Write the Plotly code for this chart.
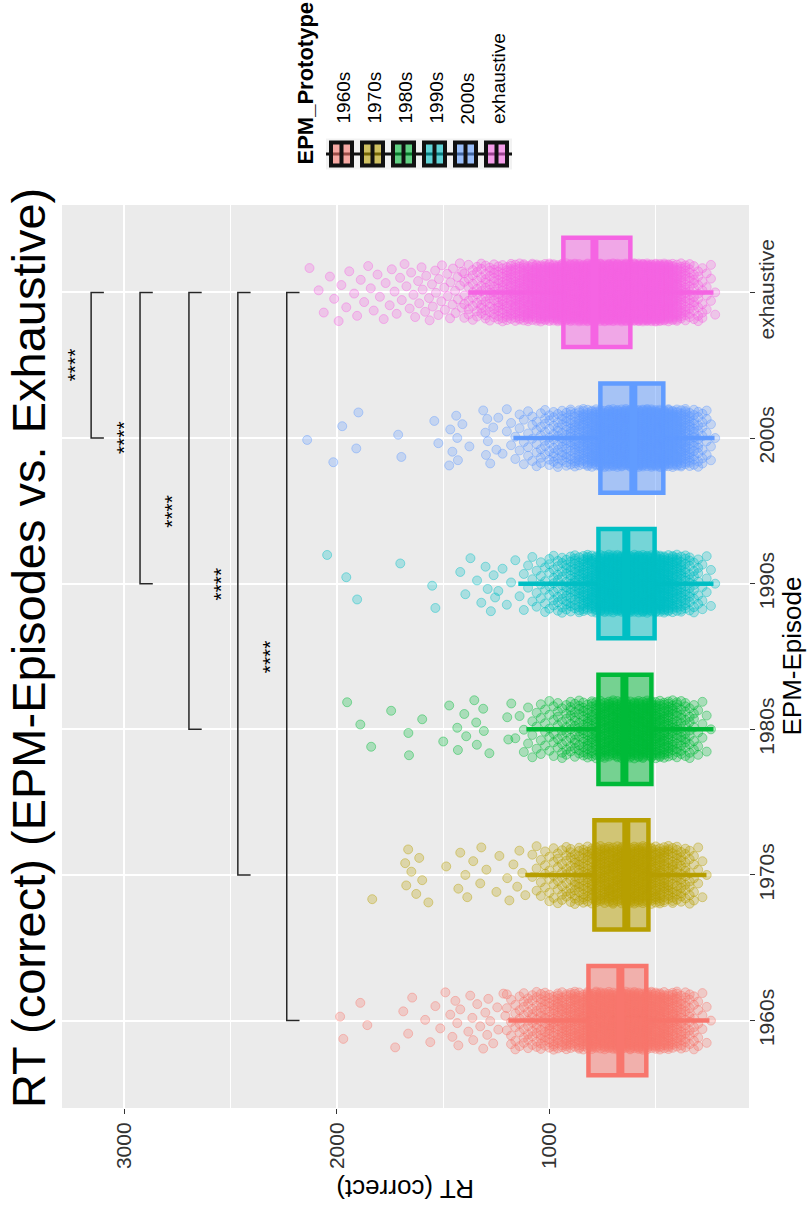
import plotly.graph_objects as go

# ---------------- data ----------------
categories = ["1960s", "1970s", "1980s", "1990s", "2000s", "exhaustive"]
colors = ["#F8766D", "#B79F00", "#00BA38", "#00BFC4", "#619CFF", "#F564E3"]

# box statistics (RT, ms)
box_lower = [247, 261, 228, 228, 223, 228]
box_q1 = [544, 534, 520, 505, 464, 619]
box_median = [666, 638, 647, 638, 605, 788]
box_q3 = [816, 788, 769, 769, 760, 934]
box_upper = [1193, 1113, 1108, 1146, 1169, 1381]

# jittered raw points: counts per 20 ms RT bin (estimated from the point clouds)
rt_bins = [220, 240, 260, 280, 300, 320, 340, 360, 380, 400,
           420, 440, 460, 480, 500, 520, 540, 560, 580, 600,
           620, 640, 660, 680, 700, 720, 740, 760, 780, 800,
           820, 840, 860, 880, 900, 920, 940, 960, 980, 1000,
           1020, 1040, 1060, 1080, 1100, 1120, 1140, 1160, 1180, 1200,
           1220, 1240, 1260, 1280, 1300, 1320, 1340, 1360, 1380, 1400]

counts_1960s = [0, 1, 2, 3, 5, 7, 9, 12, 15, 19,
                22, 25, 28, 30, 32, 34, 36, 37, 38, 38,
                38, 38, 37, 36, 35, 34, 32, 31, 30, 28,
                27, 25, 24, 22, 21, 20, 18, 17, 16, 14,
                13, 12, 10, 9, 8, 7, 6, 5, 4, 3,
                0, 0, 0, 0, 0, 0, 0, 0, 0, 0]
counts_1970s = [0, 0, 1, 2, 3, 5, 7, 9, 11, 13,
                15, 17, 19, 21, 23, 24, 25, 26, 26, 26,
                26, 25, 25, 24, 23, 22, 21, 20, 18, 17,
                15, 14, 12, 11, 9, 8, 7, 6, 5, 5,
                4, 3, 3, 2, 0, 0, 0, 0, 0, 0,
                0, 0, 0, 0, 0, 0, 0, 0, 0, 0]
counts_1980s = [0, 1, 2, 3, 4, 6, 8, 10, 12, 14,
                17, 20, 22, 24, 26, 28, 29, 30, 30, 30,
                30, 29, 28, 27, 26, 24, 23, 21, 19, 17,
                15, 13, 11, 10, 9, 8, 7, 6, 5, 5,
                4, 4, 3, 3, 2, 2, 1, 1, 0, 0,
                0, 0, 0, 0, 0, 0, 0, 0, 0, 0]
counts_1990s = [1, 2, 3, 4, 6, 8, 11, 14, 18, 22,
                26, 30, 33, 36, 38, 40, 41, 42, 42, 42,
                42, 41, 40, 39, 37, 35, 33, 31, 29, 27,
                24, 21, 18, 15, 13, 11, 9, 8, 7, 6,
                5, 4, 3, 3, 2, 2, 1, 1, 1, 1,
                1, 1, 0, 0, 0, 0, 0, 0, 0, 0]
counts_2000s = [1, 3, 5, 7, 10, 14, 18, 23, 28, 33,
                37, 41, 44, 47, 49, 50, 51, 51, 51, 50,
                49, 48, 46, 44, 42, 40, 37, 35, 32, 29,
                26, 23, 20, 17, 15, 13, 11, 10, 9, 8,
                7, 6, 5, 4, 4, 3, 3, 2, 2, 2,
                1, 1, 0, 0, 0, 0, 0, 0, 0, 0]
counts_exhaustive = [2, 3, 4, 6, 8, 10, 13, 17, 22, 28,
                     35, 43, 50, 57, 63, 67, 70, 72, 73, 74,
                     73, 72, 71, 70, 68, 66, 64, 62, 60, 58,
                     56, 54, 52, 50, 48, 46, 44, 42, 40, 38,
                     36, 34, 32, 30, 28, 26, 24, 22, 20, 18,
                     16, 14, 12, 11, 10, 9, 8, 7, 6, 5]

# sparse slow responses (individual points)
tail_1960s = [1984, 1969, 1889, 1856, 1725, 1687, 1664, 1645, 1584, 1560, 1536, 1513,
              1489, 1466, 1456, 1442, 1433, 1428, 1419, 1381, 1372, 1362, 1358, 1339,
              1325, 1311, 1301, 1292, 1287, 1278, 1264, 1245, 1240, 1216, 1207]
tail_1970s = [1833, 1678, 1673, 1664, 1649, 1626, 1612, 1598, 1569, 1485, 1428, 1419,
              1395, 1386, 1358, 1325, 1320, 1296, 1249, 1235, 1198, 1188, 1169, 1151,
              1141, 1127, 1113]
tail_1980s = [1951, 1889, 1838, 1744, 1663, 1660, 1598, 1499, 1471, 1433, 1430, 1400,
              1391, 1353, 1344, 1341, 1311, 1308, 1282, 1198, 1193, 1179]
tail_1990s = [2045, 1955, 1904, 1701, 1551, 1536, 1419, 1395, 1371, 1340, 1320, 1300,
              1290, 1275, 1262, 1255]
tail_2000s = [2139, 2016, 1974, 1908, 1898, 1711, 1696, 1541, 1522, 1471, 1466, 1456,
              1438, 1433, 1430, 1409, 1376, 1311, 1301, 1298, 1292, 1289, 1278, 1264, 1249]
tail_exhaustive = [2128, 2085, 2061, 2032, 2012, 1991, 1978, 1955, 1941, 1918, 1904, 1887,
                   1871, 1852, 1840, 1826, 1808, 1797, 1779, 1770, 1751, 1741, 1728, 1718,
                   1702, 1694, 1681, 1672, 1657, 1650, 1639, 1631, 1617, 1612, 1601, 1596,
                   1584, 1579, 1566, 1563, 1552, 1548, 1537, 1533, 1522, 1519, 1508, 1505,
                   1494, 1491, 1480, 1478, 1467, 1465, 1455, 1453, 1443, 1441, 1432, 1430,
                   1421, 1420, 1412, 1410]

counts = [counts_1960s, counts_1970s, counts_1980s, counts_1990s, counts_2000s, counts_exhaustive]
tails = [tail_1960s, tail_1970s, tail_1980s, tail_1990s, tail_2000s, tail_exhaustive]

# pairwise comparisons vs. exhaustive
bracket_groups = ["2000s", "1990s", "1980s", "1970s", "1960s"]
bracket_rt = [3155, 2925, 2695, 2465, 2235]
bracket_labels = ["****", "****", "****", "****", "****"]

title_text = "RT (correct) (EPM-Episodes vs. Exhaustive)"
x_title = "EPM-Episode"
y_title = "RT (correct)"
legend_title = "EPM_Prototype"
rt_ticks = [1000, 2000, 3000]

# ---------------- helpers ----------------
FONT = "Liberation Sans, Arial, Helvetica, sans-serif"
W, H = 807, 1207
PL, PR, PT, PB = 62, 749, 205, 1108  # plot area in pixels


def rgba(h, a):
    h = h.lstrip("#")
    r, g, b = int(h[0:2], 16), int(h[2:4], 16), int(h[4:6], 16)
    return f"rgba({r},{g},{b},{a})"


def px(xp):
    return (xp - PL) / (PR - PL)


def py(yp):
    return (PB - yp) / (PB - PT)


fig = go.Figure()
PHI = 0.6180339887498949
JIT = 0.4
BOXW = 0.75

for i, cat in enumerate(categories):
    pos = i + 1
    c = colors[i]
    xs, ys = [], []
    k = 0
    for rt, n in zip(rt_bins, counts[i]):
        for _ in range(n):
            xs.append(rt)
            ys.append(pos + (((0.5 + k * PHI) % 1.0) - 0.5) * JIT)
            k += 1
    for rt in tails[i]:
        xs.append(rt)
        ys.append(pos + (((0.5 + k * PHI) % 1.0) - 0.5) * JIT)
        k += 1
    fig.add_trace(go.Scatter(
        x=xs, y=ys, mode="markers",
        marker=dict(size=9, color=rgba(c, 0.28), line=dict(width=1, color=rgba(c, 0.42))),
        hoverinfo="skip", showlegend=False))
    fig.add_trace(go.Box(
        y=[pos], q1=[box_q1[i]], median=[box_median[i]], q3=[box_q3[i]],
        lowerfence=[box_lower[i]], upperfence=[box_upper[i]],
        orientation="h", width=BOXW, whiskerwidth=0,
        line=dict(color=c, width=4.5), fillcolor=rgba(c, 0.5),
        boxpoints=False, hoverinfo="skip", showlegend=False))
    fig.add_trace(go.Scatter(
        x=[box_median[i], box_median[i]], y=[pos - BOXW / 2, pos + BOXW / 2],
        mode="lines", line=dict(color=c, width=8), hoverinfo="skip", showlegend=False))

# significance brackets
TIP = 60
ref_pos = categories.index("exhaustive") + 1
for g, b, lab in zip(bracket_groups, bracket_rt, bracket_labels):
    p1 = categories.index(g) + 1
    fig.add_trace(go.Scatter(
        x=[b - TIP, b, b, b - TIP], y=[p1, p1, ref_pos, ref_pos],
        mode="lines", line=dict(color="#262626", width=1.5),
        hoverinfo="skip", showlegend=False))
    fig.add_annotation(x=b + 80, y=(p1 + ref_pos) / 2, xref="x", yref="y",
                       text=lab, textangle=-90, showarrow=False,
                       font=dict(family=FONT, size=21, color="black"))

# title and axis titles (rotated layout)
fig.add_annotation(text=title_text, xref="paper", yref="paper", x=px(28), y=py(1110),
                   xanchor="center", yanchor="bottom", textangle=-90, showarrow=False,
                   font=dict(family=FONT, size=47, color="black"))
fig.add_annotation(text=y_title, xref="paper", yref="paper", x=px(405), y=py(1189),
                   xanchor="center", yanchor="middle", textangle=180, showarrow=False,
                   font=dict(family=FONT, size=26, color="black"))
fig.add_annotation(text=x_title, xref="paper", yref="paper", x=px(791), y=0.5,
                   xanchor="center", yanchor="middle", textangle=-90, showarrow=False,
                   font=dict(family=FONT, size=26, color="black"))

# manual rotated legend
shapes = []
key_cx = [341.5, 372.5, 403.5, 434.5, 465.5, 496.5]
key_cy = 154
for i, cat in enumerate(categories):
    cx = key_cx[i]
    shapes.append(dict(type="rect", xref="paper", yref="paper",
                       x0=px(cx - 15.5), x1=px(cx + 15.5), y0=py(key_cy + 15.5), y1=py(key_cy - 15.5),
                       line=dict(width=0), fillcolor="#F2F2F2", layer="below"))
for i, cat in enumerate(categories):
    cx = key_cx[i]
    shapes.append(dict(type="line", xref="paper", yref="paper",
                       x0=px(cx - 15.5), x1=px(cx + 15.5), y0=py(key_cy), y1=py(key_cy),
                       line=dict(color="#111111", width=3)))
    shapes.append(dict(type="rect", xref="paper", yref="paper",
                       x0=px(cx - 10.5), x1=px(cx + 10.5), y0=py(key_cy + 11.5), y1=py(key_cy - 11.5),
                       line=dict(color="#111111", width=4), fillcolor=rgba(colors[i], 0.6)))
    shapes.append(dict(type="line", xref="paper", yref="paper",
                       x0=px(cx), x1=px(cx), y0=py(key_cy + 11.5), y1=py(key_cy - 11.5),
                       line=dict(color="#111111", width=4)))
    fig.add_annotation(text=cat, xref="paper", yref="paper", x=px(cx + 2), y=py(126),
                       xanchor="center", yanchor="bottom", textangle=-90, showarrow=False,
                       font=dict(family=FONT, size=19, color="black"))
fig.add_annotation(text="<b>" + legend_title + "</b>", xref="paper", yref="paper",
                   x=px(305), y=py(167), xanchor="center", yanchor="bottom",
                   textangle=-90, showarrow=False,
                   font=dict(family=FONT, size=22, color="black"))

fig.update_layout(
    width=W, height=H, autosize=False,
    margin=dict(l=PL, r=W - PR, t=PT, b=H - PB, pad=0),
    paper_bgcolor="white", plot_bgcolor="#EBEBEB",
    font=dict(family=FONT, color="#4D4D4D"),
    boxmode="overlay", showlegend=False, shapes=shapes,
    xaxis=dict(range=[3292, 61], tickvals=rt_ticks, ticktext=[str(t) for t in rt_ticks],
               tickangle=-90, ticks="outside", ticklen=5, tickwidth=1, tickcolor="#333333",
               showgrid=True, gridcolor="white", gridwidth=2, zeroline=False, showline=False,
               minor=dict(tickvals=[500, 1500, 2500], showgrid=True, gridcolor="white", gridwidth=1),
               tickfont=dict(family=FONT, size=21, color="#333333")),
    yaxis=dict(range=[0.4, 6.6], tickvals=[1, 2, 3, 4, 5, 6], ticktext=categories,
               side="right", tickangle=-90, ticks="outside", ticklen=5, tickwidth=1,
               tickcolor="#333333", showgrid=True, gridcolor="white", gridwidth=2,
               zeroline=False, showline=False, ticklabelstandoff=-6,
               tickfont=dict(family=FONT, size=21, color="#333333")),
)

fig.write_html("out.html", config={"displayModeBar": False},
               post_script="document.body.style.margin='0';document.body.style.overflow='hidden';")
